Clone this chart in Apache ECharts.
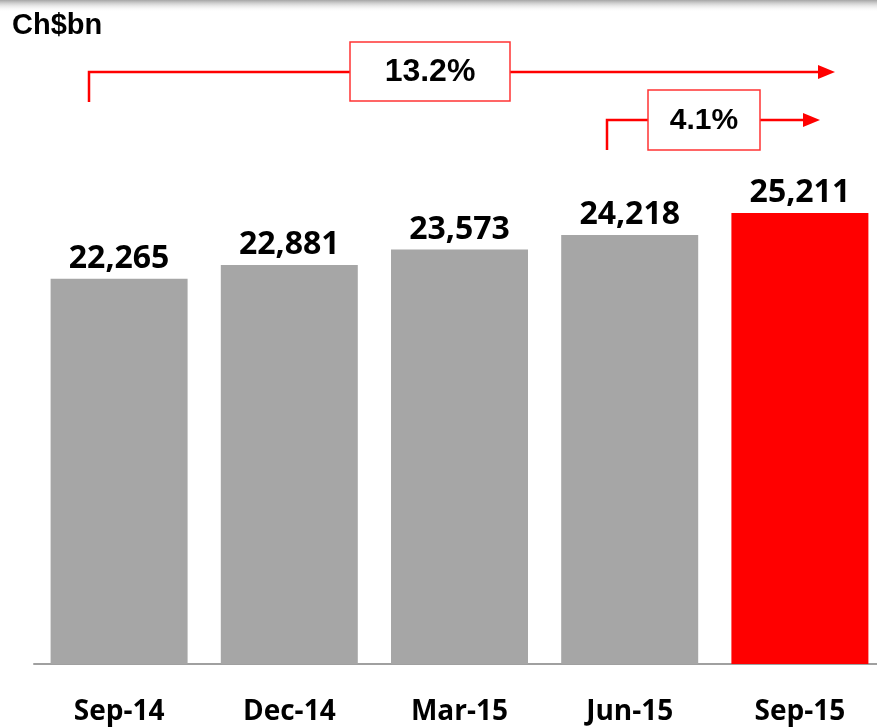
<!DOCTYPE html>
<html>
<head>
<meta charset="utf-8">
<script src="https://cdn.jsdelivr.net/npm/echarts@6/dist/echarts.min.js"></script>
<style>
html,body{margin:0;padding:0;background:#fff;}
#chart{width:877px;height:727px;}
</style>
</head>
<body>
<div id="chart"></div>
<script>
// ---- data ----
var categories = ['Sep-14', 'Dec-14', 'Mar-15', 'Jun-15', 'Sep-15'];
var values = [22265, 22881, 23573, 24218, 25211];
var highlightIndex = 4;
var growthLabels = ['13.2%', '4.1%'];
var unitLabel = 'Ch$bn';

var chart = echarts.init(document.getElementById('chart'));

var barData = values.map(function (v, i) {
  return {
    value: v,
    itemStyle: { color: i === highlightIndex ? '#FF0000' : '#A6A6A6' }
  };
});

var RED = '#FF0000';

function bracket(x0, y0, yBottom, boxL, boxR, boxT, boxB, tip, label, fontSize) {
  var yMid = y0;
  return [
    { type: 'polyline', shape: { points: [[x0, yBottom], [x0, yMid], [boxL, yMid]] },
      style: { stroke: RED, lineWidth: 2.5, fill: null } },
    { type: 'line', shape: { x1: boxR, y1: yMid, x2: tip - 16, y2: yMid },
      style: { stroke: RED, lineWidth: 2.5 } },
    { type: 'polygon', shape: { points: [[tip - 17, yMid - 7], [tip, yMid], [tip - 17, yMid + 7]] },
      style: { fill: RED } },
    { type: 'rect', shape: { x: boxL, y: boxT, width: boxR - boxL, height: boxB - boxT },
      style: { fill: '#fff', stroke: '#FF3333', lineWidth: 1.5 } },
    { type: 'text', x: (boxL + boxR) / 2, y: (boxT + boxB) / 2 + 1,
      style: { text: label, font: 'bold ' + fontSize + 'px "Liberation Sans", Arial, sans-serif',
               fill: '#000', align: 'center', verticalAlign: 'middle' } }
  ];
}

var graphics = [
  { type: 'rect', shape: { x: 0, y: 0, width: 877, height: 12 },
    style: { fill: new echarts.graphic.LinearGradient(0, 0, 0, 1, [
      { offset: 0, color: 'rgba(160,160,160,0.95)' },
      { offset: 1, color: 'rgba(255,255,255,0)' }]) } },
  { type: 'text', x: 12, y: 11,
    style: { text: unitLabel, font: 'bold 29px "Liberation Sans", Arial, sans-serif', fill: '#000' } }
].concat(
  bracket(89, 72, 102, 350, 510, 42, 101, 835, growthLabels[0], 32),
  bracket(607, 120, 150, 648, 760, 90, 150, 820, growthLabels[1], 30)
);

chart.setOption({
  animation: false,
  backgroundColor: '#fff',
  grid: { left: 34, top: 106, bottom: 63, width: 851, containLabel: false, outerBoundsMode: 'none' },
  xAxis: {
    type: 'category',
    data: categories,
    axisLine: { show: true, lineStyle: { color: '#A0A0A0', width: 2 } },
    axisTick: { show: false },
    axisLabel: {
      margin: 34,
      color: '#000',
      fontFamily: '"Open Sans", sans-serif',
      fontWeight: 'bold',
      fontSize: 28
    }
  },
  yAxis: {
    type: 'value',
    min: 5000,
    max: 30000,
    show: false,
    splitLine: { show: false }
  },
  series: [{
    type: 'bar',
    data: barData,
    barWidth: 137,
    label: {
      show: true,
      position: 'top',
      distance: 4,
      color: '#000',
      fontFamily: '"Open Sans", sans-serif',
      fontWeight: 'bold',
      fontSize: 32,
      formatter: function (p) { return p.value.toLocaleString('en-US'); }
    }
  }],
  graphic: graphics
});
</script>
</body>
</html>
